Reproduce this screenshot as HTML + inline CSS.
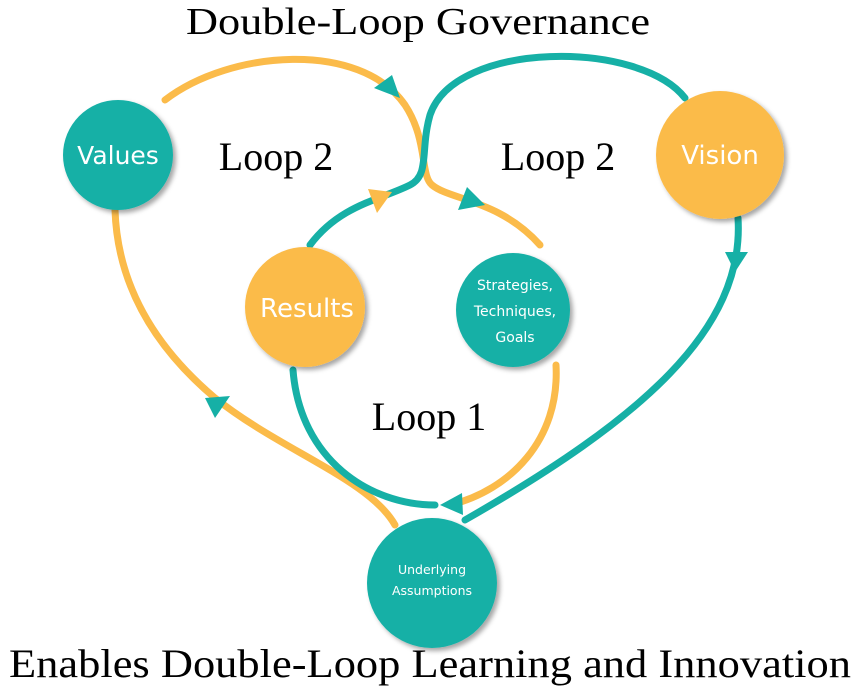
<!DOCTYPE html>
<html><head><meta charset="utf-8"><style>
html,body{margin:0;padding:0;background:#fff;}
svg{display:block}
</style></head><body>
<svg width="863" height="693" viewBox="0 0 863 693" xmlns="http://www.w3.org/2000/svg">
<defs>
<filter id="sh" x="-20%" y="-20%" width="150%" height="150%">
<feDropShadow dx="3" dy="3" stdDeviation="2.5" flood-color="#000" flood-opacity="0.35"/>
</filter>
</defs>
<g fill="none" stroke-width="7" stroke-linecap="round">
<path d="M115 210 C118 300 170 360 215 398 C280 450 370 480 395 525" stroke="#fbbb4a"/>
<path d="M165 100 C230 50 360 40 405 105 C428 140 420 175 432 185 C450 200 500 200 540 245" stroke="#fbbb4a"/>
<path d="M556 365 C560 440 510 490 450 505" stroke="#fbbb4a"/>
<path d="M310 245 C340 205 380 200 410 185 C430 175 420 150 430 115 C455 40 640 40 685 98" stroke="#16b0a6"/>
<path d="M738 218 C745 330 640 420 465 520" stroke="#16b0a6"/>
<path d="M293 370 C300 460 370 505 435 505" stroke="#16b0a6"/>
</g>
<g fill="#16b0a6">
<polygon points="400,98 374,88 392,75"/>
<polygon points="485,205 458,210 467,187"/>
<polygon points="735,272 725,252 748,252"/>
<polygon points="205,398 230,396 215,418"/>
<polygon points="440,505 462,493 463,515"/>
</g>
<polygon points="392,192 368,189 377,213" fill="#fbbb4a"/>
<g filter="url(#sh)">
<circle cx="118" cy="155" r="55" fill="#16b0a6"/>
<circle cx="720" cy="155" r="64" fill="#fbbb4a"/>
<circle cx="305" cy="307" r="60" fill="#fbbb4a"/>
<circle cx="513" cy="310" r="57" fill="#16b0a6"/>
<circle cx="432" cy="583" r="65" fill="#16b0a6"/>
</g>
<g font-family="'DejaVu Sans','Liberation Sans',sans-serif" fill="#fff" text-anchor="middle">
<text x="118" y="164" font-size="25">Values</text>
<text x="720" y="164" font-size="26">Vision</text>
<text x="307" y="317" font-size="26">Results</text>
<text x="515" y="290" font-size="14">Strategies,</text>
<text x="515" y="316" font-size="14">Techniques,</text>
<text x="515" y="342" font-size="14">Goals</text>
<text x="432" y="574" font-size="12.5">Underlying</text>
<text x="432" y="595" font-size="12.5">Assumptions</text>
</g>
<g font-family="'Liberation Serif',serif" fill="#000" text-anchor="middle">
<text x="418" y="34" font-size="38" textLength="464" lengthAdjust="spacingAndGlyphs">Double-Loop Governance</text>
<text x="276" y="170" font-size="40">Loop 2</text>
<text x="558" y="170" font-size="40">Loop 2</text>
<text x="429" y="430" font-size="40">Loop 1</text>
<text x="430" y="677" font-size="40" textLength="842" lengthAdjust="spacingAndGlyphs">Enables Double-Loop Learning and Innovation</text>
</g>
</svg>
</body></html>
